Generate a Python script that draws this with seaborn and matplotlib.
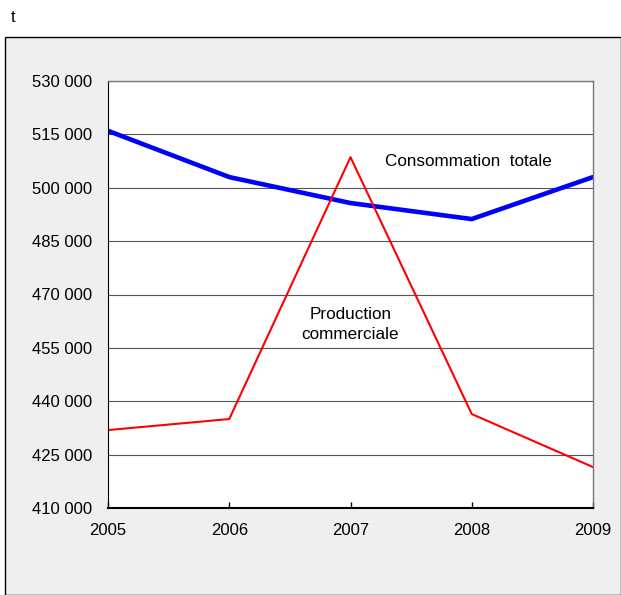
import seaborn as sns
import matplotlib.pyplot as plt
import pandas as pd
from matplotlib.patches import Rectangle

years = [2005, 2006, 2007, 2008, 2009]
consommation = [516000, 503000, 495700, 491200, 503000]
production = [431900, 435000, 508600, 436400, 421500]
yticks = list(range(410000, 530001, 15000))

df = pd.DataFrame({'annee': years, 'consommation': consommation, 'production': production})

sns.set_style('white')
plt.rcParams['font.family'] = ['Liberation Sans', 'DejaVu Sans']
plt.rcParams['text.color'] = 'black'
plt.rcParams['xtick.color'] = 'black'
plt.rcParams['ytick.color'] = 'black'

fig = plt.figure(figsize=(6.21, 5.95), dpi=100)
fig.patch.set_facecolor('white')

# grey panel with border, behind the axes
panel = Rectangle((5 / 621, 0), 1 - 5 / 621, 1 - 37 / 595, transform=fig.transFigure,
                  facecolor='#efefef', edgecolor='black', linewidth=1, zorder=-1)
fig.patches.append(panel)
fig.text(11 / 621, 1 - 17 / 595, 't', fontsize=12, va='center', ha='left')

ax = fig.add_axes([108 / 621, 1 - 508 / 595, 485 / 621, 427 / 595])
ax.set_facecolor('white')

sns.lineplot(data=df, x='annee', y='consommation', ax=ax, color='#0000ff', linewidth=3.3)
sns.lineplot(data=df, x='annee', y='production', ax=ax, color='#ff0000', linewidth=1.5)

ax.set_xlim(2005, 2009)
ax.set_ylim(410000, 530000)
ax.set_xticks(years)
ax.set_yticks(yticks)
ax.set_yticklabels([f'{v:,}'.replace(',', ' ') for v in yticks])
ax.set_xlabel('')
ax.set_ylabel('')
ax.tick_params(axis='x', direction='in', length=4, width=1, pad=11, labelsize=12, bottom=True)
ax.tick_params(axis='y', length=0, pad=11.5, labelsize=12)
ax.grid(axis='y', color='#555555', linewidth=0.8)
ax.set_axisbelow(True)

for side in ['top', 'right']:
    ax.spines[side].set_color('#777777')
    ax.spines[side].set_linewidth(1)
ax.spines['left'].set_color('black')
ax.spines['bottom'].set_color('black')
ax.spines['bottom'].set_linewidth(1.5)

ax.text(2007.97, 507300, 'Consommation  totale', ha='center', va='center', fontsize=12.3)
ax.text(2007.0, 461600, 'Production\ncommerciale', ha='center', va='center', fontsize=12.3,
        linespacing=1.45)

fig.savefig('out.png', dpi=100)
